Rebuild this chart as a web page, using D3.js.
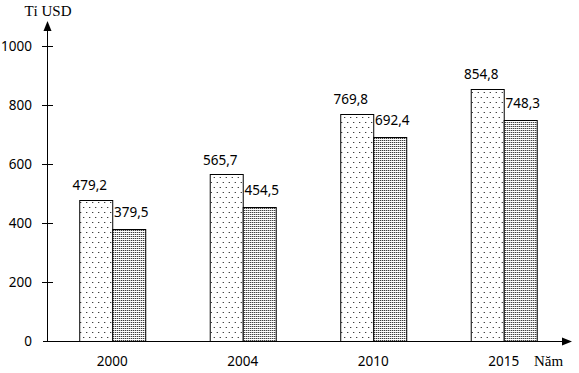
<!DOCTYPE html>
<html><head><meta charset="utf-8">
<script src="https://cdn.jsdelivr.net/npm/d3@7"></script>
<style>body{margin:0;background:#fff}</style>
</head><body>
<script>
const years = ["2000", "2004", "2010", "2015"];
const seriesA = [479.2, 565.7, 769.8, 854.8];
const seriesB = [379.5, 454.5, 692.4, 748.3];
const yTicks = [0, 200, 400, 600, 800, 1000];
const labelsA = ["479,2", "565,7", "769,8", "854,8"];
const labelsB = ["379,5", "454,5", "692,4", "748,3"];

const W = 579, H = 373;
const FONT = "'Noto Sans', 'DejaVu Sans', sans-serif";
const svg = d3.select("body").append("svg").attr("width", W).attr("height", H);
const defs = svg.append("defs");
const pa = defs.append("pattern").attr("id", "pA").attr("patternUnits", "userSpaceOnUse")
  .attr("width", 6).attr("height", 10);
pa.append("rect").attr("width", 6).attr("height", 10).attr("fill", "#fff");
pa.append("rect").attr("x", 1).attr("y", 2).attr("width", 1).attr("height", 1).attr("fill", "#000");
pa.append("rect").attr("x", 4).attr("y", 7).attr("width", 1).attr("height", 1).attr("fill", "#000");
const pb = defs.append("pattern").attr("id", "pB").attr("patternUnits", "userSpaceOnUse")
  .attr("width", 2).attr("height", 2);
pb.append("rect").attr("width", 2).attr("height", 2).attr("fill", "#fff");
pb.append("rect").attr("x", 0).attr("y", 0).attr("width", 1).attr("height", 1).attr("fill", "#000");

const x0 = d3.scaleBand().domain(years).range([47, 569]).paddingInner(0.494).paddingOuter(0.247);
const x1 = d3.scaleBand().domain(["A", "B"]).range([0, x0.bandwidth()]);
const y = d3.scaleLinear().domain([0, 1000]).range([341, 46]);

const data = years.map((yr, i) => ({yr, vals: [
  {k: "A", v: seriesA[i], lab: labelsA[i]},
  {k: "B", v: seriesB[i], lab: labelsB[i]}]}));

const g = svg.selectAll("g.grp").data(data).enter().append("g")
  .attr("transform", d => `translate(${x0(d.yr)},0)`);
g.selectAll("rect").data(d => d.vals).enter().append("rect")
  .attr("x", d => Math.round(x1(d.k)) + 0.5)
  .attr("y", d => Math.round(y(d.v)) + 0.5)
  .attr("width", Math.round(x1.bandwidth()))
  .attr("height", d => Math.round(y(0)) - Math.round(y(d.v)))
  .attr("fill", d => d.k === "A" ? "url(#pA)" : "url(#pB)")
  .attr("stroke", "#000").attr("stroke-width", 1);
g.selectAll("text").data(d => d.vals).enter().append("text")
  .attr("x", d => x1(d.k) + x1.bandwidth() / 2 + (d.k === "A" ? -6 : 2.5))
  .attr("y", d => y(d.v) - (d.k === "A" ? 9.5 : 12))
  .attr("text-anchor", "middle")
  .attr("font-family", FONT).attr("font-size", 13.5)
  .text(d => d.lab);

// axes
const ax = 47.5, ay = 341.5;
svg.append("line").attr("x1", ax).attr("x2", ax).attr("y1", ay).attr("y2", 28).attr("stroke", "#000");
svg.append("path").attr("d", `M${ax},21 L${ax-4},31 L${ax+4},31 Z`).attr("fill", "#000");
svg.append("line").attr("x1", 43).attr("x2", 565).attr("y1", ay).attr("y2", ay).attr("stroke", "#000");
svg.append("path").attr("d", `M572,${ay} L562,${ay-4} L562,${ay+4} Z`).attr("fill", "#000");

svg.selectAll("line.tick").data(yTicks.slice(1)).enter().append("line")
  .attr("x1", 42).attr("x2", 53)
  .attr("y1", d => Math.round(y(d)) + 0.5).attr("y2", d => Math.round(y(d)) + 0.5)
  .attr("stroke", "#000");
svg.selectAll("text.yt").data(yTicks).enter().append("text")
  .attr("x", 32).attr("y", d => y(d) + 5)
  .attr("text-anchor", "end")
  .attr("font-family", FONT).attr("font-size", 13.5)
  .text(d => d);
svg.selectAll("text.xt").data(years).enter().append("text")
  .attr("x", d => x0(d) + x0.bandwidth() / 2).attr("y", 366)
  .attr("text-anchor", "middle")
  .attr("font-family", FONT).attr("font-size", 13.5)
  .text(d => d);

svg.append("text").attr("x", 48).attr("y", 16).attr("text-anchor", "middle")
  .attr("font-family", "Liberation Serif").attr("font-size", 15).text("Tỉ USD");
svg.append("text").attr("x", 534).attr("y", 366)
  .attr("font-family", "Liberation Serif").attr("font-size", 15).text("Năm");
</script>
</body></html>
